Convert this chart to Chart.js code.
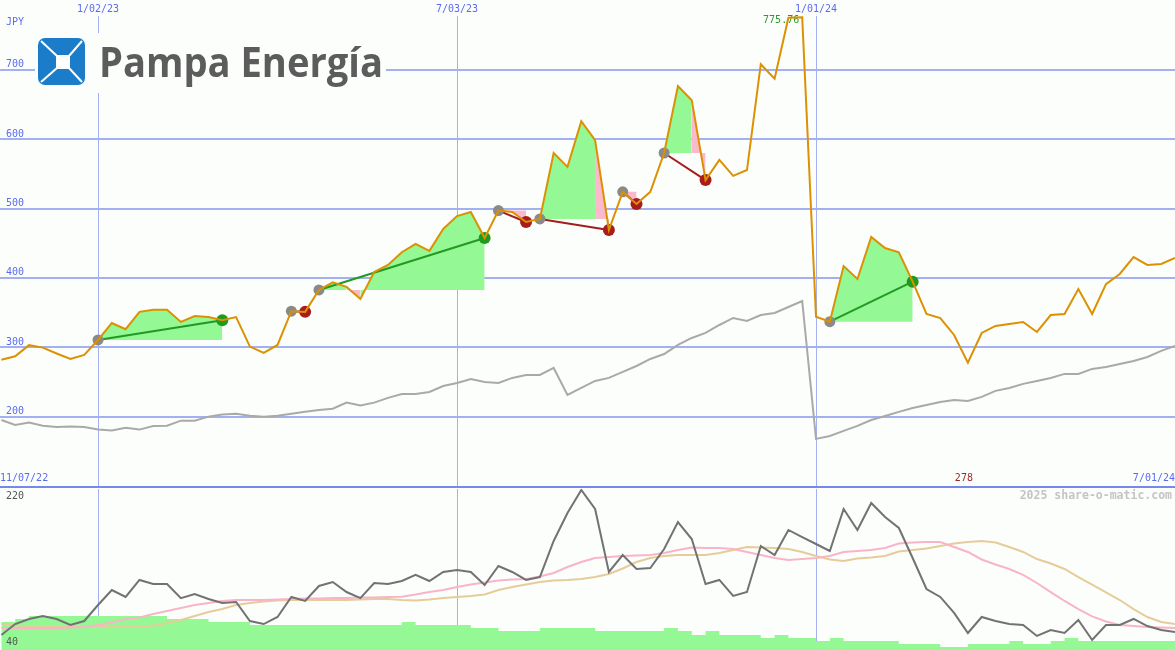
<!DOCTYPE html>
<html>
<head>
<meta charset="utf-8">
<script src="https://cdn.jsdelivr.net/npm/chart.js@4.4.1/dist/chart.umd.min.js"></script>
<style>
  html, body { margin: 0; padding: 0; background: #fcfefc; }
  #wrap { position: relative; width: 1175px; height: 650px; overflow: hidden; }
  #priceChart { position: absolute; left: 0; top: 0; }
  #volChart { position: absolute; left: 0; top: 486px; }
  #logo { position: absolute; left: 0; top: 0; }
</style>
</head>
<body>
<div id="wrap">
  <canvas id="priceChart" width="1175" height="486"></canvas>
  <canvas id="volChart" width="1175" height="164"></canvas>
  <svg id="logo" width="400" height="100">
    <rect x="35" y="33" width="351" height="60" fill="#fcfefc"/>
    <rect x="38" y="38" width="47" height="47" rx="7" fill="#1b7dc9"/>
    <g stroke="#ffffff" stroke-width="2">
      <line x1="41" y1="41" x2="57" y2="56"/>
      <line x1="82" y1="41" x2="69" y2="56"/>
      <line x1="41" y1="82" x2="57" y2="68"/>
      <line x1="82" y1="82" x2="69" y2="68"/>
    </g>
    <rect x="56" y="55" width="14" height="14" fill="#ffffff"/>
    <text x="99" y="77" font-family="'Open Sans'" font-weight="700" font-size="42" fill="#5c5c5c"
          textLength="284" lengthAdjust="spacingAndGlyphs">Pampa Energía</text>
  </svg>
</div>
<script>
// weekly data, week 0 = 2 Jan 2023, first point is week -7
const firstWeek = -7;
const viewStart = -7.1;
const viewEnd = 78;
const tickWeeks = [ 0, 26, 52 ];
const tickLabels = [ '1/02/23', '7/03/23', '1/01/24' ];
const priceTicks = [ 200, 300, 400, 500, 600, 700 ];
const startLabel = '11/07/22';
const endLabel = '7/01/24';
const currency = 'JPY';
const oscTop = 220;
const oscBottom = 40;

// closing price (JPY)
const price = [
    282, 287, 303, 299.5, 291, 283, 289,
    310.5, 335, 326, 351, 354, 354, 336.5, 345, 343.5, 339,
    343.5, 301, 292, 303.3, 352, 351, 382.6, 393.5, 387, 369.6,
    408.5, 418.6, 437, 449, 439, 470.5, 489, 495, 457.5, 497,
    495, 480.5, 485, 580, 560, 626, 598.6, 469, 524, 506.5,
    524, 580, 676.5, 656, 541, 570, 547, 555.5, 708, 687,
    775, 775.76, 344, 336.9, 417, 398.4, 459, 443, 437, 394.5,
    348, 342, 317.7, 277.8, 320.6, 330.7, 333.6, 336.5, 322, 346.5,
    348, 384, 348, 391, 405.6, 430, 418.6, 420, 428.7
];

// comparison index (grey line)
const index = [
    195.2, 188, 191.4, 187, 185, 185.6, 185,
    181.3, 180, 184, 181.3, 186.6, 187, 194.2, 194.2, 200, 203,
    204.3, 201.4, 200, 201.4, 204.3, 206.9, 209.7, 211.5, 220.2, 215.9,
    220.2, 227, 232.7, 232.7, 235.6, 244.2, 248.6, 254.3, 250, 248.6,
    255.8, 260.1, 260.1, 270.2, 231.3, 241.4, 251.4, 255.8, 264.4, 273,
    283.1, 290.3, 303.3, 313.4, 320.6, 332.1, 342.2, 337.9, 346.5, 349.4,
    358, 366.7, 167.9, 172.2, 179.4, 186.6, 195.2, 201, 206.8, 212.5,
    216.9, 221.2, 224.1, 222.6, 228.4, 237.1, 241.4, 247.2, 251.4, 255.8,
    261.6, 261.6, 268.8, 271.6, 276, 280.3, 286, 294.7, 301.9
];

// lower panel
const volume = [
    71.3, 74.7, 78, 78, 78, 78, 78,
    78, 78, 78, 78, 78, 74.7, 74.7, 74.7, 71.3, 71.3,
    71.3, 68, 68, 68, 68, 68, 68, 68, 68, 68,
    68, 68, 71.3, 68, 68, 68, 68, 64.6, 64.6, 61.2,
    61.2, 61.2, 64.6, 64.6, 64.6, 64.6, 61.2, 61.2, 61.2, 61.2,
    61.2, 64.6, 61.2, 56.8, 61.2, 56.8, 56.8, 56.8, 53.4, 56.8,
    53.4, 53.4, 50, 53.4, 50, 50, 50, 50, 46.7, 46.7,
    46.7, 43.4, 43.4, 46.7, 46.7, 46.7, 50, 46.7, 46.7, 50,
    53.4, 50, 50, 50, 50, 50, 50, 50, 50
];

const oscillator = [
    56.8, 69, 74.7, 78, 74.7, 68, 72.4,
    90.3, 107, 99.3, 118.3, 113.8, 113.8, 98, 102.6, 97, 92.5,
    93.7, 72.4, 69, 76.9, 99.3, 94.8, 111.6, 116, 104.8, 98,
    114.9, 113.8, 117.1, 123.9, 117.1, 127.2, 129.4, 127.2, 112.7, 133.9,
    127.2, 118.3, 121.6, 161.9, 193.2, 218.9, 197.6, 127.2, 146.2, 130.6,
    131.7, 152.9, 183.1, 164.1, 113.8, 118.3, 100.4, 104.8, 156.3, 146.2,
    174.2, 166.3, 158.5, 150.7, 197.6, 174.2, 204.3, 188.7, 176.4, 142.9,
    108.2, 99.3, 81.4, 59, 76.9, 72.4, 69, 68, 55.7, 62.4,
    59, 73.5, 51.2, 68, 68, 74.7, 66.8, 62.4, 60.1
];

const avgFast = [
    64.6, 64.6, 64.6, 64.6, 64.6, 65.2, 65.7,
    68, 70.7, 74.7, 76.3, 80.3, 83.6, 87, 90.3, 92.5, 94.8,
    95.9, 95.9, 95.9, 96.5, 97, 97.6, 97.6, 98.1, 98.1, 98.7,
    98.7, 99.3, 99.6, 102, 104.8, 107.1, 110.4, 113.2, 115.4, 117.7,
    118.8, 119.4, 122.2, 126.1, 132.8, 138.4, 142.9, 144, 145.1, 145.7,
    146.2, 148.4, 151.8, 154.6, 154, 154, 152.9, 149.6, 146.2, 142.9,
    140.6, 141.7, 142.9, 145.1, 149.6, 150.7, 151.8, 154, 159.1, 160.2,
    160.7, 160.7, 155.2, 149.6, 141.2, 135.6, 130.6, 123.9, 114.9, 104.8,
    94.8, 85.8, 77.5, 71.9, 68, 66.8, 65.7, 65.2, 64.6
];

const avgSlow = [
    69.1, 67.4, 66.3, 65.7, 65.7, 65.7, 65.7,
    65.7, 65.7, 65.7, 65.7, 67.4, 70.2, 73.5, 78, 82.5, 85.8,
    90.3, 92.5, 94.2, 95.3, 95.9, 95.9, 95.9, 95.9, 95.9, 96.5,
    97, 97, 95.9, 95.3, 96.5, 98.1, 99.3, 100.4, 102.1, 107.1,
    110.4, 113.2, 116, 117.7, 118.3, 119.4, 121.6, 125, 131.1, 138.4,
    142.9, 145.1, 146.2, 146.2, 146.2, 148.4, 151.8, 155.2, 154.6, 154,
    152.9, 149.6, 145.1, 141.2, 139.5, 142.3, 143.4, 145.1, 150.1, 151.8,
    153.5, 156.3, 159.1, 160.7, 161.9, 160.2, 155.2, 149.6, 141.7, 136.7,
    130.6, 121.6, 113.2, 104.3, 95.9, 85.8, 76.9, 71.3, 69.1
];

// trades: entry week and exit week
const tradeEntry = [ 0, 14, 16, 29, 32, 38, 41, 53 ];
const tradeExit = [ 9, 15, 28, 31, 37, 39, 44, 59 ];

const BLUE = '#5b6bef';
const GRID = '#a3b1f3';
const GREEN_FILL = '#94f894';
const PINK_FILL = '#fbb9cb';
const MONO = '"DejaVu Sans Mono", monospace';

function points ( arr )
{
    return arr.map( ( v, i ) => ( { x: firstWeek + i, y: v } ) );
}
function at ( week )
{
    return price[ week - firstWeek ];
}

// shaded area of each trade: green where the week closes above the entry, pink below
let fillSets = tradeEntry.map( ( entry, t ) =>
{
    let base = at( entry );
    let data = [];
    for ( let w = entry; w <= tradeExit[ t ]; w++ ) data.push( { x: w, y: at( w ) } );
    return {
        data: data,
        borderWidth: 0,
        pointRadius: 0,
        backgroundColor: GREEN_FILL,
        segment: {
            backgroundColor: ( c ) => data[ c.p1DataIndex ].y >= base ? GREEN_FILL : PINK_FILL
        },
        fill: { value: base },
        order: 4
    };
} );

let tradeSets = tradeEntry.map( ( entry, t ) =>
{
    let exit = tradeExit[ t ];
    let win = at( exit ) > at( entry );
    return {
        data: [ { x: entry, y: at( entry ) }, { x: exit, y: at( exit ) } ],
        borderColor: win ? '#229a22' : '#a41d1d',
        borderWidth: 2,
        pointRadius: [ 5.5, 6 ],
        pointBackgroundColor: [ '#8a8a8a', win ? '#1f9a1f' : '#a81c1c' ],
        pointBorderWidth: 0,
        fill: false,
        order: 1
    };
} );

const priceNotes = {
    id: 'priceNotes',
    beforeDatasetsDraw ( chart )
    {
        const { ctx, chartArea, scales: { x, y } } = chart;
        ctx.save();
        ctx.font = '10px ' + MONO;
        ctx.textBaseline = 'middle';
        ctx.fillStyle = BLUE;
        ctx.textAlign = 'left';
        ctx.fillText( currency, 6, 22 );
        ctx.fillText( startLabel, 0, chartArea.bottom - 8 );
        ctx.textAlign = 'right';
        ctx.fillText( endLabel, chart.width, chartArea.bottom - 8 );

        let hi = Math.max( ...price );
        let lo = Math.min( ...price );
        let hiWeek = firstWeek + price.indexOf( hi );
        let loWeek = firstWeek + price.indexOf( lo );
        ctx.fillStyle = '#2a9a2a';
        ctx.fillText( hi.toFixed( 2 ), x.getPixelForValue( hiWeek ) - 3, y.getPixelForValue( hi ) + 3 );
        ctx.fillStyle = '#a02828';
        ctx.textAlign = 'center';
        ctx.fillText( String( Math.round( lo ) ), x.getPixelForValue( loWeek ) - 4, chartArea.bottom - 8 );
        ctx.restore();
    }
};

const volNotes = {
    id: 'volNotes',
    afterDraw ( chart )
    {
        const ctx = chart.ctx;
        ctx.save();
        ctx.fillStyle = '#7888ea';
        ctx.fillRect( 0, 0, chart.width, 2 );
        ctx.font = '10px ' + MONO;
        ctx.textBaseline = 'middle';
        ctx.textAlign = 'left';
        ctx.fillStyle = '#555555';
        ctx.fillText( String( oscTop ), 6, 10.5 );
        ctx.fillText( String( oscBottom ), 6, 156 );
        ctx.font = 'bold 11.5px ' + MONO;
        ctx.fillStyle = '#c4c4c4';
        ctx.textAlign = 'right';
        ctx.fillText( '2025 share-o-matic.com', chart.width - 3, 10 );
        ctx.restore();
    }
};

function noPadding ( scale )
{
    scale.paddingTop = 0;
    scale.paddingBottom = 0;
    scale.paddingLeft = 0;
    scale.paddingRight = 0;
}

// upper panel: price
new Chart( document.getElementById( 'priceChart' ), {
    type: 'line',
    data: {
        datasets: [
            {
                data: points( price ),
                borderColor: '#db9102',
                borderWidth: 2,
                pointRadius: 0,
                fill: false,
                order: 0
            },
            ...tradeSets,
            {
                data: points( index ),
                borderColor: '#a9a9a9',
                borderWidth: 2,
                pointRadius: 0,
                fill: false,
                order: 2
            },
            ...fillSets
        ]
    },
    options: {
        responsive: false,
        animation: false,
        devicePixelRatio: 1,
        events: [],
        layout: { padding: 0, autoPadding: false },
        plugins: { legend: { display: false }, tooltip: { enabled: false } },
        scales: {
            x: {
                type: 'linear',
                position: 'top',
                min: viewStart,
                max: viewEnd,
                afterBuildTicks: ( s ) => { s.ticks = tickWeeks.map( v => ( { value: v } ) ); },
                afterFit: ( s ) => { s.height = 16; noPadding( s ); },
                grid: { color: GRID, lineWidth: 1, drawTicks: false },
                border: { display: false },
                ticks: {
                    font: { family: MONO, size: 10 },
                    color: BLUE,
                    padding: 1,
                    maxRotation: 0,
                    autoSkip: false,
                    callback: ( v ) => tickLabels[ tickWeeks.indexOf( v ) ]
                }
            },
            y: {
                min: 100,
                max: 777.5,
                afterBuildTicks: ( s ) => { s.ticks = priceTicks.map( v => ( { value: v } ) ); },
                afterFit: ( s ) => { s.width = 0; noPadding( s ); },
                grid: { color: GRID, lineWidth: 2, drawTicks: false },
                border: { display: false },
                ticks: {
                    mirror: true,
                    padding: 6,
                    labelOffset: -5,
                    font: { family: MONO, size: 10 },
                    color: BLUE,
                    callback: ( v ) => String( v )
                }
            }
        }
    },
    plugins: [ priceNotes ]
} );

// lower panel: volume and oscillator
new Chart( document.getElementById( 'volChart' ), {
    type: 'line',
    data: {
        datasets: [
            {
                data: points( oscillator ),
                borderColor: '#727272',
                borderWidth: 2,
                pointRadius: 0,
                fill: false,
                order: 0
            },
            {
                data: points( avgFast ),
                borderColor: '#f9b4c8',
                borderWidth: 2,
                pointRadius: 0,
                fill: false,
                order: 1
            },
            {
                data: points( avgSlow ),
                borderColor: '#e6cc9a',
                borderWidth: 2,
                pointRadius: 0,
                fill: false,
                order: 2
            },
            {
                data: points( volume ),
                borderWidth: 0,
                pointRadius: 0,
                stepped: true,
                backgroundColor: GREEN_FILL,
                fill: 'start',
                order: 3
            }
        ]
    },
    options: {
        responsive: false,
        animation: false,
        devicePixelRatio: 1,
        events: [],
        layout: { padding: { top: 3 }, autoPadding: false },
        plugins: { legend: { display: false }, tooltip: { enabled: false } },
        scales: {
            x: {
                type: 'linear',
                min: viewStart,
                max: viewEnd,
                afterBuildTicks: ( s ) => { s.ticks = tickWeeks.map( v => ( { value: v } ) ); },
                afterFit: ( s ) => { s.height = 0; noPadding( s ); },
                grid: { color: GRID, lineWidth: 1, drawTicks: false },
                border: { display: false },
                ticks: { display: false }
            },
            y: {
                min: oscBottom,
                max: oscTop,
                display: false
            }
        }
    },
    plugins: [ volNotes ]
} );
</script>
</body>
</html>
